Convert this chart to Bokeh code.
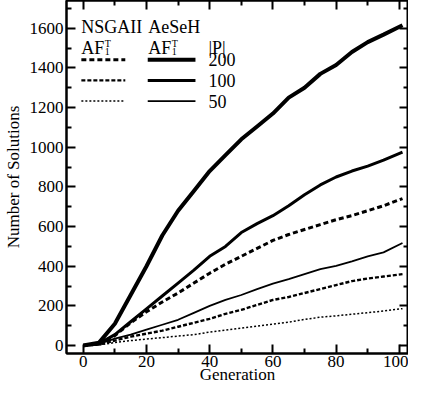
from bokeh.plotting import figure
from bokeh.models import Label, LinearAxis, FixedTicker, Range1d
from bokeh.embed import file_html
from bokeh.resources import INLINE

# ---- data ----
generation = [0, 5, 10, 15, 20, 25, 30, 35, 40, 45, 50, 55, 60, 65, 70, 75, 80, 85, 90, 95, 101]
aeseh_200 = [0, 15, 110, 255, 400, 555, 680, 780, 880, 960, 1040, 1105, 1170, 1250, 1300, 1370, 1415, 1480, 1530, 1568, 1615]
aeseh_100 = [0, 10, 55, 120, 185, 250, 315, 380, 450, 500, 570, 615, 655, 705, 760, 810, 850, 880, 905, 935, 976]
aeseh_50 = [0, 8, 35, 55, 80, 105, 130, 165, 200, 230, 255, 285, 312, 335, 360, 385, 402, 425, 450, 470, 517]
nsga_200 = [0, 8, 50, 115, 170, 220, 265, 315, 365, 410, 450, 490, 530, 560, 585, 610, 635, 655, 680, 705, 741]
nsga_100 = [0, 5, 25, 45, 60, 75, 95, 115, 135, 160, 180, 205, 230, 245, 265, 285, 305, 325, 338, 348, 360]
nsga_50 = [0, 3, 15, 25, 33, 40, 48, 55, 68, 78, 88, 98, 108, 118, 132, 143, 150, 158, 166, 174, 186]

x_ticks = [0, 20, 40, 60, 80, 100]
y_ticks = [0, 200, 400, 600, 800, 1000, 1200, 1400, 1600]
pop_sizes = ["200", "100", "50"]

FONT = "Liberation Serif"
FS = "17px"

p = figure(width=408, height=386, output_backend="svg", toolbar_location=None,
           x_range=Range1d(-5.3, 102.9), y_range=Range1d(-40, 1740),
           min_border_left=57, min_border_right=0, min_border_top=0, min_border_bottom=30)
p.grid.visible = False
p.outline_line_color = "black"
p.outline_line_width = 2
p.background_fill_color = "white"
p.border_fill_color = "white"

def style_axis(ax, ticks, minor, labels=True):
    ax.ticker = FixedTicker(ticks=ticks, minor_ticks=minor)
    ax.axis_line_width = 2
    ax.major_tick_in = 9
    ax.major_tick_out = 0
    ax.minor_tick_in = 5
    ax.minor_tick_out = 0
    ax.major_tick_line_width = 2
    ax.minor_tick_line_width = 2
    ax.major_label_text_font = FONT
    ax.major_label_text_font_size = FS
    ax.major_label_text_color = "black"
    ax.major_label_standoff = 3
    ax.axis_label_text_font = FONT
    ax.axis_label_text_font_size = FS
    ax.axis_label_text_font_style = "normal"
    ax.axis_label_text_color = "black"
    if not labels:
        ax.major_label_text_font_size = "0px"
        ax.major_label_text_color = None
        ax.major_label_standoff = 0

x_minor = [10, 30, 50, 70, 90]
y_minor = [100, 300, 500, 700, 900, 1100, 1300, 1500, 1700]
style_axis(p.xaxis[0], x_ticks, x_minor)
style_axis(p.yaxis[0], y_ticks, y_minor)
p.xaxis[0].axis_label = "Generation"
p.xaxis[0].major_label_standoff = 2
p.xaxis[0].axis_label_standoff = -5
p.yaxis[0].axis_label = "Number of Solutions"
p.yaxis[0].axis_label_standoff = 4

top = LinearAxis()
style_axis(top, x_ticks, x_minor, labels=False)
p.add_layout(top, "above")
right = LinearAxis()
style_axis(right, y_ticks, y_minor, labels=False)
p.add_layout(right, "right")

# ---- curves ----
p.line(generation, aeseh_200, line_color="black", line_width=4)
p.line(generation, aeseh_100, line_color="black", line_width=3)
p.line(generation, aeseh_50, line_color="black", line_width=1.8)
p.line(generation, nsga_200, line_color="black", line_width=3, line_dash="5 3")
p.line(generation, nsga_100, line_color="black", line_width=2.4, line_dash="4 2")
p.line(generation, nsga_50, line_color="black", line_width=1.5, line_dash="2 2")

# ---- legend (drawn manually as a small table) ----
row_y = [1441, 1337, 1233]
ns_styles = [(3, "5 3"), (2.4, "4 2"), (1.5, "2 2")]
ae_widths = [4, 3, 1.8]
for ry, (w, d), aw, lab in zip(row_y, ns_styles, ae_widths, pop_sizes):
    p.line([-0.6, 13.3], [ry, ry], line_color="black", line_width=w, line_dash=d)
    p.line([20.4, 35.5], [ry, ry], line_color="black", line_width=aw)
    p.add_layout(Label(x=39.6, y=ry, text=lab, text_font=FONT, text_font_size="18px",
                       text_baseline="middle", text_color="black"))

def lab(x, y, t, size="18px", baseline="alphabetic"):
    p.add_layout(Label(x=x, y=y, text=t, text_font=FONT, text_font_size=size,
                       text_baseline=baseline, text_color="black"))

lab(-0.6, 1605, "NSGAII")
lab(20.6, 1605, "AeSeH")
for x0 in (-0.6, 20.6):
    lab(x0, 1501, "AF")
    lab(x0 + 7.4, 1522, "T", size="10px")
    lab(x0 + 7.4, 1482, "1", size="10px")
lab(39.6, 1501, "|P|")

open("out.html", "w").write(file_html(p, INLINE))
